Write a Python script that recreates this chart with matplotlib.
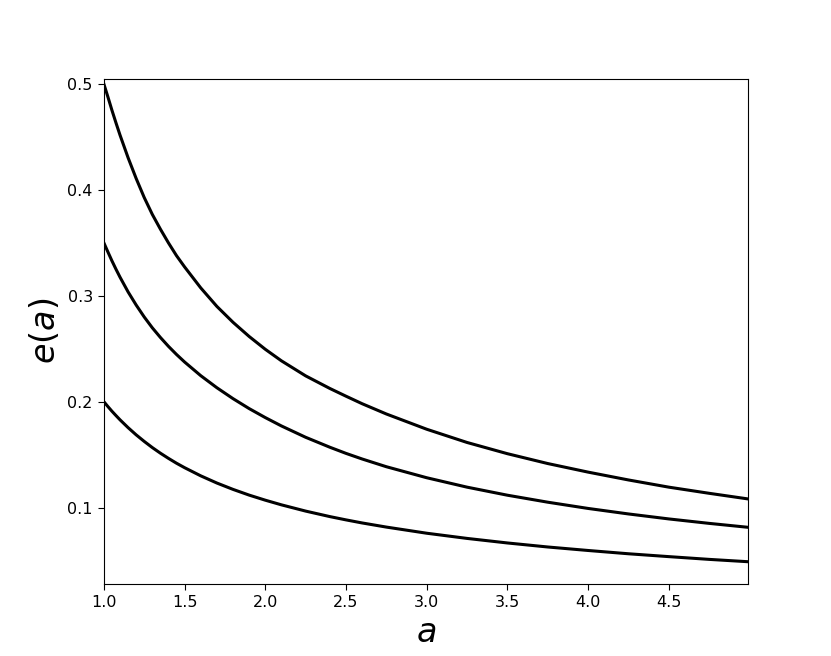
import matplotlib
matplotlib.use('Agg')
import matplotlib.pyplot as plt

# a 取值
a_vals = [1.0, 1.025, 1.05, 1.075, 1.1, 1.15, 1.2, 1.25, 1.3, 1.35, 1.4, 1.45,
          1.5, 1.6, 1.7, 1.8, 1.9, 2.0, 2.1, 2.25, 2.4, 2.5, 2.6, 2.75,
          3.0, 3.25, 3.5, 3.75, 4.0, 4.25, 4.5, 4.75, 4.99]

# 三条曲线 e(a)，从上到下
e_top = [0.5000, 0.4878, 0.4752, 0.4633, 0.4518, 0.4304, 0.4108, 0.3928,
         0.3769, 0.3630, 0.3500, 0.3379, 0.3273, 0.3075, 0.2900, 0.2750,
         0.2616, 0.2495, 0.2386, 0.2244, 0.2125, 0.2052, 0.1981, 0.1884,
         0.1740, 0.1615, 0.1509, 0.1416, 0.1335, 0.1261, 0.1193, 0.1135,
         0.1082]
e_mid = [0.3500, 0.3414, 0.3330, 0.3251, 0.3176, 0.3037, 0.2913, 0.2800,
         0.2698, 0.2607, 0.2523, 0.2446, 0.2375, 0.2246, 0.2132, 0.2029,
         0.1935, 0.1850, 0.1771, 0.1664, 0.1570, 0.1512, 0.1459, 0.1386,
         0.1282, 0.1193, 0.1117, 0.1051, 0.0992, 0.0940, 0.0893, 0.0851,
         0.0814]
e_low = [0.2000, 0.1954, 0.1910, 0.1869, 0.1829, 0.1755, 0.1687, 0.1625,
         0.1567, 0.1514, 0.1465, 0.1419, 0.1377, 0.1300, 0.1232, 0.1172,
         0.1118, 0.1070, 0.1026, 0.0967, 0.0915, 0.0884, 0.0855, 0.0816,
         0.0758, 0.0709, 0.0666, 0.0628, 0.0595, 0.0564, 0.0537, 0.0511,
         0.0489]

fig, ax = plt.subplots(figsize=(8.31, 6.56), dpi=100)

for e in (e_top, e_mid, e_low):
    ax.plot(a_vals, e, color='black', linewidth=2.2)

ax.set_xlim(a_vals[0], a_vals[-1])
ax.set_ylim(0.028, 0.505)
ax.set_xticks([1.0, 1.5, 2.0, 2.5, 3.0, 3.5, 4.0, 4.5])
ax.set_yticks([0.1, 0.2, 0.3, 0.4, 0.5])
ax.tick_params(labelsize=11.5, length=4.5)

ax.set_xlabel('$a$', fontsize=24)
ax.set_ylabel('$e(a)$', fontsize=24)

plt.savefig('out.png', dpi=100)
plt.close(fig)
